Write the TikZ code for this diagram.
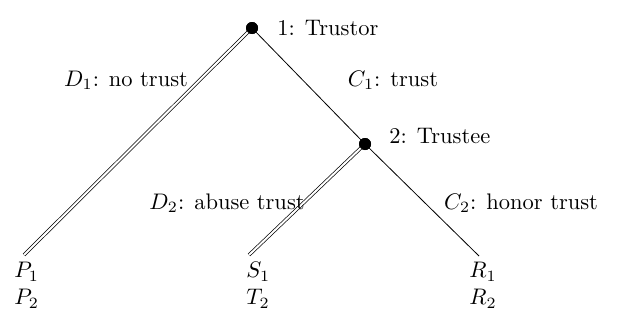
\documentclass[tikz,border=0pt]{standalone}
\usepackage{fontspec}
\begin{document}
\begin{tikzpicture}[x=1pt,y=-1pt,
  dot/.style={circle,fill=black,inner sep=0pt,minimum size=12pt},
  lbl/.style={font=\normalsize,inner sep=0pt,scale=2.25,transform shape},
  leaf/.style={font=\normalsize,inner sep=0pt,align=left,anchor=north west,scale=2.25,transform shape},
  plain/.style={line width=0.8pt},
  dbl/.style={double,line width=0.7pt,double distance=2pt}]
\useasboundingbox (0,0) rectangle (624,324);
\node[dot] (r) at (252,28) {};
\node[dot] (t) at (365,144) {};
\coordinate (lp) at (24,255);
\coordinate (ls) at (249,255);
\coordinate (lr) at (479,256);
\draw[dbl] (r.center) -- (lp);
\draw[plain] (r.center) -- (t.center);
\draw[dbl] (t.center) -- (ls);
\draw[plain] (t.center) -- (lr);
\node[dot] at (252,28) {};
\node[dot] at (365,144) {};
\node[lbl,anchor=west] (rl) at (277,28) {1: Trustor};
\node[lbl,anchor=west] (tl) at (389,136) {2: Trustee};
\node[lbl] (d1) at (126,80) {$D_1$: no trust};
\node[lbl] (c1) at (393,80) {$C_1$: trust};
\node[lbl] (d2) at (227,203) {$D_2$: abuse trust};
\node[lbl] (c2) at (521,203) {$C_2$: honor trust};
\node[leaf] (pp) at (14,262) {$P_1$\\$P_2$};
\node[leaf] (ss) at (246,262) {$S_1$\\$T_2$};
\node[leaf] (rr) at (469,262) {$R_1$\\$R_2$};
\end{tikzpicture}
\end{document}
